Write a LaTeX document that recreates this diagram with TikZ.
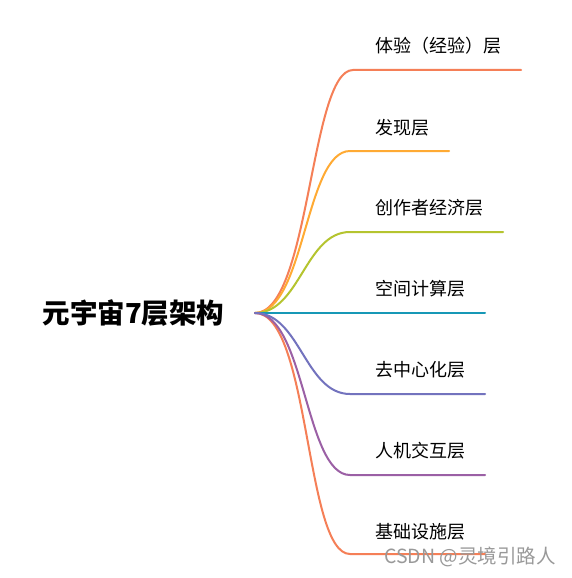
\documentclass[tikz,border=0pt]{standalone}
\usepackage{fontspec}
\newfontfamily\cjk{Noto Sans CJK SC}
\definecolor{cRed}{RGB}{245,127,87}
\definecolor{cOrange}{RGB}{255,170,51}
\definecolor{cGreen}{RGB}{181,196,47}
\definecolor{cTeal}{RGB}{22,152,182}
\definecolor{cBlue}{RGB}{115,115,190}
\definecolor{cPurple}{RGB}{155,96,165}
\tikzset{
  branch/.style={line width=2pt, line cap=round},
  lbl/.style={anchor=west, inner sep=0pt, font=\cjk\fontsize{18}{20}\selectfont, text=black},
  rootlbl/.style={inner sep=0pt, font=\cjk\bfseries\fontsize{27.5}{30}\selectfont, text=black},
  wm/.style={anchor=west, inner sep=0pt, font=\cjk\fontsize{19.5}{22}\selectfont, text=black!40}
}
\begin{document}
\begin{tikzpicture}[x=1pt,y=-1pt]
\useasboundingbox[fill=white] (0,0) rectangle (571,578);
\node[rootlbl] (root) at (133.5,313) {元宇宙7层架构};
\coordinate (hub) at (255,313);
% branch endpoints
\coordinate (s1) at (353,70);  \coordinate (e1) at (521,70);
\coordinate (s2) at (350,151); \coordinate (e2) at (449,151);
\coordinate (s3) at (350,232); \coordinate (e3) at (503,232);
\coordinate (e4) at (485,313);
\coordinate (s5) at (350,394); \coordinate (e5) at (485,394);
\coordinate (s6) at (350,475); \coordinate (e6) at (485,475);
\coordinate (s7) at (350,554); \coordinate (e7) at (485,554);
% connectors
\draw[branch, cRed] (hub) .. controls (310,313) and (310,70) .. (s1) -- (e1);
\draw[branch, cOrange] (hub) .. controls (305,313) and (305,151) .. (s2) -- (e2);
\draw[branch, cGreen] (hub) .. controls (300,313) and (305,232) .. (s3) -- (e3);
\draw[branch, cTeal] (hub) -- (e4);
\draw[branch, cRed] (hub) .. controls (310,313) and (305,554) .. (s7) -- (e7);
\draw[branch, cPurple] (hub) .. controls (305,313) and (305,475) .. (s6) -- (e6);
\draw[branch, cBlue] (hub) .. controls (300,313) and (305,394) .. (s5) -- (e5);
% labels
\node[lbl] (l1) at (375,46) {体验（经验）层};
\node[lbl] (l2) at (375,128) {发现层};
\node[lbl] (l3) at (375,208) {创作者经济层};
\node[lbl] (l4) at (375,289) {空间计算层};
\node[lbl] (l5) at (375,370) {去中心化层};
\node[lbl] (l6) at (375,451) {人机交互层};
\node[lbl] (l7) at (375,532) {基础设施层};
\node[wm] (wm) at (384,557) {CSDN @灵境引路人};
\end{tikzpicture}
\end{document}
